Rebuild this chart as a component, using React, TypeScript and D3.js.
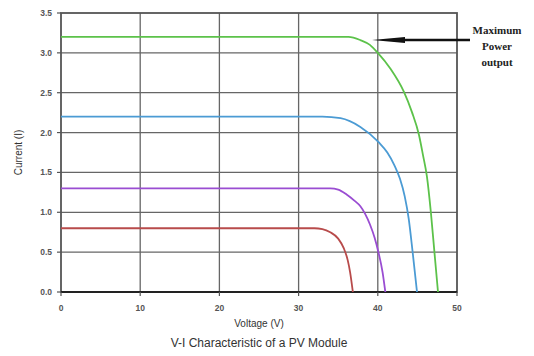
import React from 'react';
import * as d3 from 'd3';

type Pt = [number, number];

const xTicks = [0, 10, 20, 30, 40, 50];
const yTicks = [0, 0.5, 1.0, 1.5, 2.0, 2.5, 3.0, 3.5];

// voltage (V), current (I)
const greenCurve: Pt[] = [
    [0, 3.2], [36.3, 3.2], [37.8, 3.16], [39, 3.1], [40, 3.0], [41.6, 2.8], [43.3, 2.51],
    [44.3, 2.26], [45.2, 1.97], [45.7, 1.72], [46.2, 1.45], [46.7, 1.0], [47.15, 0.5], [47.6, 0],
];
const blueCurve: Pt[] = [
    [0, 2.2], [33, 2.2], [35.3, 2.18], [37.8, 2.07], [40.1, 1.88], [41.2, 1.75], [42.1, 1.59],
    [42.8, 1.42], [43.4, 1.2], [43.9, 0.92], [44.4, 0.5], [44.95, 0],
];
const purpleCurve: Pt[] = [
    [0, 1.3], [34, 1.3], [35, 1.285], [36.1, 1.22], [37, 1.15], [37.8, 1.075], [38.4, 0.98],
    [39, 0.85], [39.6, 0.68], [40.1, 0.49], [40.6, 0.25], [40.95, 0],
];
const redCurve: Pt[] = [
    [0, 0.8], [32, 0.8], [33, 0.79], [34, 0.75], [35, 0.67], [35.7, 0.55], [36.2, 0.4],
    [36.5, 0.25], [36.85, 0],
];

const series = [
    { pts: greenCurve, color: '#5cc24a' },
    { pts: blueCurve, color: '#4b9bd4' },
    { pts: purpleCurve, color: '#9a4dd2' },
    { pts: redCurve, color: '#b84b4b' },
];

const annotationLines = ['Maximum', 'Power', 'output'];

const W = 534;
const H = 356;
const left = 61;
const right = 457;
const top = 13;
const bottom = 292;

const App: React.FC = () => {
    const x = d3.scaleLinear().domain([0, 50]).range([left, right]);
    const y = d3.scaleLinear().domain([0, 3.5]).range([bottom, top]);
    const line = d3.line<Pt>().x(d => x(d[0])).y(d => y(d[1])).curve(d3.curveMonotoneX);
    const sans = 'Liberation Sans, Arial, sans-serif';

    return (
        <svg width={W} height={H} style={{ position: 'absolute', left: 0, top: 0, background: '#fff' }}>
            {/* grid */}
            {xTicks.slice(1, -1).map(t => (
                <line key={'gx' + t} x1={x(t)} x2={x(t)} y1={top} y2={bottom} stroke="#666" strokeWidth={1.3} />
            ))}
            {yTicks.slice(1, -1).map(t => (
                <line key={'gy' + t} x1={left} x2={right} y1={y(t)} y2={y(t)} stroke="#666" strokeWidth={1.3} />
            ))}
            <rect x={left} y={top} width={right - left} height={bottom - top} fill="none" stroke="#555" strokeWidth={1.8} />
            <line x1={left} x2={right} y1={bottom} y2={bottom} stroke="#222" strokeWidth={2} />
            {/* ticks */}
            {yTicks.map(t => (
                <g key={'ty' + t}>
                    <line x1={left - 4} x2={left} y1={y(t)} y2={y(t)} stroke="#555" strokeWidth={1.2} />
                    <text x={left - 9} y={y(t) + 3} textAnchor="end" fontSize={8.5} fontFamily={sans} fontWeight="bold" fill="#555">
                        {t.toFixed(1)}
                    </text>
                </g>
            ))}
            {xTicks.map(t => (
                <g key={'tx' + t}>
                    <line x1={x(t)} x2={x(t)} y1={bottom} y2={bottom + 4} stroke="#555" strokeWidth={1.2} />
                    <text x={x(t)} y={bottom + 19} textAnchor="middle" fontSize={8.5} fontFamily={sans} fontWeight="bold" fill="#555">
                        {t}
                    </text>
                </g>
            ))}
            {/* curves */}
            {series.map((s, i) => (
                <path key={i} d={line(s.pts) || ''} fill="none" stroke={s.color} strokeWidth={1.8} />
            ))}
            {/* annotation */}
            <line x1={470} x2={400} y1={40} y2={40} stroke="#111" strokeWidth={2.4} />
            <path d="M372,40 L405,37 L405,43 Z" fill="#111" />
            {annotationLines.map((s, i) => (
                <text key={s} x={497} y={34 + i * 16} textAnchor="middle" fontSize={11} fontWeight="bold"
                    fontFamily="Liberation Serif, DejaVu Serif, serif" fill="#222">
                    {s}
                </text>
            ))}
            {/* labels */}
            <text transform={`translate(22,${(top + bottom) / 2}) rotate(-90)`} textAnchor="middle" fontSize={10}
                fontFamily={sans} fill="#333">
                Current (I)
            </text>
            <text x={(left + right) / 2} y={327} textAnchor="middle" fontSize={10} fontFamily={sans} fill="#333">
                Voltage (V)
            </text>
            <text x={(left + right) / 2} y={347} textAnchor="middle" fontSize={12} fontFamily={sans} fill="#333">
                V-I Characteristic of a PV Module
            </text>
        </svg>
    );
};

export default App;
